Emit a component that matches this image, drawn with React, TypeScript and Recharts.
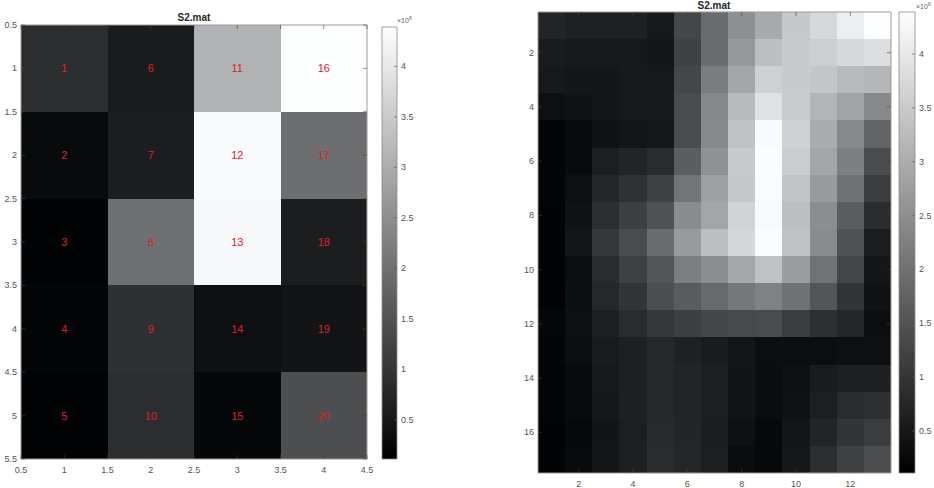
import { ComposedChart, XAxis, YAxis, ReferenceArea, Scatter } from 'recharts';

// values are in units of 1e8, read from the grey level of each cell
const SMALL = [
  [0.87, 0.56, 3.1, 4.39],
  [0.28, 0.6, 4.31, 1.96],
  [0.16, 1.99, 4.27, 0.6],
  [0.19, 0.92, 0.36, 0.45],
  [0.14, 0.87, 0.23, 1.42],
];
const SMALL_X_TICKS = [0.5, 1, 1.5, 2, 2.5, 3, 3.5, 4, 4.5];
const SMALL_Y_TICKS = [0.5, 1, 1.5, 2, 2.5, 3, 3.5, 4, 4.5, 5, 5.5];

const FULL = [
  [0.71, 0.65, 0.65, 0.65, 0.51, 1.28, 1.91, 2.51, 2.96, 3.47, 3.74, 4.1, 4.36],
  [0.56, 0.53, 0.53, 0.51, 0.48, 1.2, 1.92, 2.66, 3.3, 3.5, 3.57, 3.74, 3.84],
  [0.51, 0.48, 0.48, 0.53, 0.51, 1.28, 2.21, 2.88, 3.6, 3.5, 3.43, 3.23, 3.17],
  [0.36, 0.41, 0.48, 0.51, 0.51, 1.37, 2.38, 3.23, 3.89, 3.52, 3.13, 2.85, 2.41],
  [0.19, 0.28, 0.41, 0.46, 0.5, 1.39, 2.41, 3.35, 4.31, 3.62, 3.0, 2.41, 1.79],
  [0.19, 0.28, 0.61, 0.71, 0.83, 1.67, 2.54, 3.48, 4.34, 3.53, 2.88, 2.24, 1.37],
  [0.19, 0.36, 0.75, 0.93, 1.2, 2.06, 2.78, 3.47, 4.32, 3.38, 2.69, 2.01, 1.12],
  [0.16, 0.41, 0.87, 1.17, 1.49, 2.46, 2.88, 3.65, 4.31, 3.3, 2.48, 1.67, 0.83],
  [0.16, 0.46, 1.03, 1.37, 1.92, 2.69, 3.3, 3.72, 4.34, 3.35, 2.44, 1.49, 0.58],
  [0.16, 0.33, 0.83, 1.18, 1.54, 2.22, 2.48, 2.91, 3.35, 2.75, 2.02, 1.27, 0.48],
  [0.16, 0.35, 0.76, 0.98, 1.42, 1.64, 1.87, 2.11, 2.28, 2.01, 1.54, 0.98, 0.41],
  [0.21, 0.38, 0.63, 0.83, 1.03, 1.17, 1.28, 1.34, 1.37, 1.12, 0.9, 0.75, 0.35],
  [0.19, 0.33, 0.56, 0.63, 0.76, 0.66, 0.56, 0.46, 0.33, 0.33, 0.33, 0.36, 0.36],
  [0.18, 0.28, 0.51, 0.63, 0.76, 0.71, 0.61, 0.45, 0.31, 0.38, 0.56, 0.63, 0.63],
  [0.18, 0.28, 0.5, 0.63, 0.78, 0.71, 0.61, 0.45, 0.31, 0.4, 0.61, 0.83, 0.9],
  [0.16, 0.24, 0.45, 0.61, 0.8, 0.73, 0.6, 0.38, 0.24, 0.46, 0.71, 0.98, 1.12],
  [0.16, 0.28, 0.46, 0.63, 0.83, 0.75, 0.61, 0.31, 0.24, 0.5, 0.87, 1.18, 1.42],
];
const FULL_X_TICKS = [2, 4, 6, 8, 10, 12];
const FULL_Y_TICKS = [2, 4, 6, 8, 10, 12, 14, 16];

const BAR_TICKS = [0.5, 1, 1.5, 2, 2.5, 3, 3.5, 4];
const V_MIN = 0.11;
const V_MAX = 4.39;

const H = 488;
const FONT = '"Liberation Sans", Arial, Helvetica, sans-serif';
const BOX = '#9a9a9a';
const TICK_TEXT = '#555';
const TM = 4; // tick margin

function grey(v: number) {
  const t = Math.max(0, Math.min(1, (v - V_MIN) / (V_MAX - V_MIN)));
  const g = Math.round(t * 255);
  return `rgb(${Math.max(0, g - 2)},${g},${Math.min(255, g + 2)})`;
}

const BottomTick = (p: any) => (
  <g>
    <line x1={p.x} x2={p.x} y1={p.y - TM} y2={p.y - TM - 4} stroke="#444" strokeWidth={0.6} />
    <text x={p.x} y={p.y + 10} textAnchor="middle" fontSize={9} fill={TICK_TEXT} fontFamily={FONT}>
      {p.payload.value}
    </text>
  </g>
);

const LeftTick = (p: any) => (
  <g>
    <line x1={p.x + TM} x2={p.x + TM + 4} y1={p.y} y2={p.y} stroke="#444" strokeWidth={0.6} />
    <text x={p.x} y={p.y + 3} textAnchor="end" fontSize={9} fill={TICK_TEXT} fontFamily={FONT}>
      {p.payload.value}
    </text>
  </g>
);

const TopTick = (p: any) => (
  <line x1={p.x} x2={p.x} y1={p.y} y2={p.y + 4} stroke="#444" strokeWidth={0.6} />
);

const RightTick = (p: any) => (
  <line x1={p.x} x2={p.x - 4} y1={p.y} y2={p.y} stroke="#444" strokeWidth={0.6} />
);

const BarTick = (p: any) => (
  <g>
    <line x1={p.x - TM} x2={p.x - TM - 3} y1={p.y} y2={p.y} stroke="#555" strokeWidth={0.6} />
    <text x={p.x} y={p.y + 3} fontSize={9} fill={TICK_TEXT} fontFamily={FONT}>
      {p.payload.value}
    </text>
  </g>
);

const NumberLabel = (p: any) =>
  p.payload.n ? (
    <text x={p.cx} y={p.cy + 4} textAnchor="middle" fontSize={11} fill="#dc2229" fontFamily={FONT}>
      {p.payload.n}
    </text>
  ) : (
    <g />
  );

interface MapProps {
  left: number;
  width: number;
  matrix: number[][];
  xTicks: number[];
  yTicks: number[];
  top: number;
  right: number;
  yAxisWidth: number;
  xAxisHeight: number;
  numbered?: boolean;
}

function Heatmap({ left, width, matrix, xTicks, yTicks, top, right, yAxisWidth, xAxisHeight, numbered }: MapProps) {
  const nRows = matrix.length;
  const nCols = matrix[0].length;
  const xDomain = [0.5, nCols + 0.5];
  const yDomain = [0.5, nRows + 0.5];
  const cells = matrix.flatMap((row, r) =>
    row.map((v, c) => ({ x: c + 1, y: r + 1, v, n: numbered ? c * nRows + r + 1 : 0 }))
  );
  return (
    <div style={{ position: 'absolute', left, top: 0 }}>
      <ComposedChart width={width} height={H} margin={{ top: top - 1, right: right - 1, bottom: 0, left: 0 }}>
        <XAxis xAxisId="b" dataKey="x" type="number" domain={xDomain} ticks={xTicks} interval={0} height={xAxisHeight}
          allowDataOverflow tickSize={0} tickMargin={TM} tickLine={false} stroke={BOX} tick={<BottomTick />} />
        <XAxis xAxisId="t" dataKey="x" orientation="top" type="number" domain={xDomain} ticks={xTicks} interval={0} height={1}
          allowDataOverflow tickSize={0} tickMargin={0} tickLine={false} stroke={BOX} tick={<TopTick />} />
        <YAxis yAxisId="l" dataKey="y" type="number" domain={yDomain} ticks={yTicks} interval={0} width={yAxisWidth} reversed
          allowDataOverflow tickSize={0} tickMargin={TM} tickLine={false} stroke={BOX} tick={<LeftTick />} />
        <YAxis yAxisId="r" dataKey="y" orientation="right" type="number" domain={yDomain} ticks={yTicks} interval={0} width={1} reversed
          allowDataOverflow tickSize={0} tickMargin={0} tickLine={false} stroke={BOX} tick={<RightTick />} />
        {cells.map((d) => (
          <ReferenceArea
            key={`${d.x}-${d.y}`}
            xAxisId="b"
            yAxisId="l"
            x1={d.x - 0.5}
            x2={d.x + 0.5}
            y1={d.y - 0.5}
            y2={d.y + 0.5}
            ifOverflow="visible"
            fill={grey(d.v)}
            fillOpacity={1}
            stroke="none"
            shapeRendering="crispEdges"
          />
        ))}
        <Scatter xAxisId="b" yAxisId="l" data={cells} dataKey="y" shape={<NumberLabel />} isAnimationActive={false} />
      </ComposedChart>
    </div>
  );
}

function ColorBar({ left, width, top, bottom, leftPad, axisWidth, id }: any) {
  const ends = [
    { x: 0, y: V_MIN },
    { x: 1, y: V_MAX },
  ];
  return (
    <div style={{ position: 'absolute', left, top: 0 }}>
      <ComposedChart width={width} height={H} margin={{ top, bottom, left: leftPad, right: 0 }}>
        <defs>
          <linearGradient id={id} x1="0" y1="1" x2="0" y2="0">
            <stop offset="0" stopColor="#000000" />
            <stop offset="1" stopColor="#ffffff" />
          </linearGradient>
        </defs>
        <XAxis xAxisId="cb" dataKey="x" type="number" domain={[0, 1]} height={0} hide />
        <YAxis yAxisId="cb" dataKey="y" orientation="right" type="number" domain={[V_MIN, V_MAX]} ticks={BAR_TICKS} interval={0}
          width={axisWidth} allowDataOverflow tickSize={0} tickMargin={TM} tickLine={false} axisLine={false} tick={<BarTick />} />
        <ReferenceArea xAxisId="cb" yAxisId="cb" x1={0} x2={1} y1={V_MIN} y2={V_MAX} ifOverflow="visible"
          fill={`url(#${id})`} fillOpacity={1} stroke="#8a8a8a" strokeWidth={0.8} />
        <Scatter xAxisId="cb" yAxisId="cb" data={ends} dataKey="y" shape={<g />} isAnimationActive={false} />
      </ComposedChart>
    </div>
  );
}

const titleStyle = (left: number, top: number): React.CSSProperties => ({
  position: 'absolute',
  left: left - 50,
  top,
  width: 100,
  textAlign: 'center',
  fontFamily: FONT,
  fontSize: 10,
  lineHeight: '10px',
  fontWeight: 'bold',
  color: '#262626',
});

const expStyle = (left: number, top: number): React.CSSProperties => ({
  position: 'absolute',
  left,
  top,
  fontFamily: FONT,
  fontSize: 7,
  lineHeight: '7px',
  color: '#666',
  whiteSpace: 'nowrap',
});

export default function App() {
  return (
    <div style={{ position: 'absolute', left: 0, top: 0, width: 934, height: H, background: '#fff', overflow: 'hidden' }}>
      <Heatmap left={0} width={380} matrix={SMALL} xTicks={SMALL_X_TICKS} yTicks={SMALL_Y_TICKS}
        top={25} right={13} yAxisWidth={21} xAxisHeight={29} numbered />
      <ColorBar left={370} width={60} top={27} bottom={29} leftPad={12} axisWidth={33} id="cbL" />
      <div style={titleStyle(194, 13)}>S2.mat</div>
      <div style={expStyle(397, 15)}>×10<sup style={{ fontSize: 5 }}>8</sup></div>

      <Heatmap left={500} width={400} matrix={FULL} xTicks={FULL_X_TICKS} yTicks={FULL_Y_TICKS}
        top={12} right={9} yAxisWidth={38} xAxisHeight={15} />
      <ColorBar left={890} width={44} top={12} bottom={15} leftPad={9} axisWidth={19} id="cbR" />
      <div style={titleStyle(714, 1)}>S2.mat</div>
      <div style={expStyle(916, 1)}>×10<sup style={{ fontSize: 5 }}>8</sup></div>
    </div>
  );
}
